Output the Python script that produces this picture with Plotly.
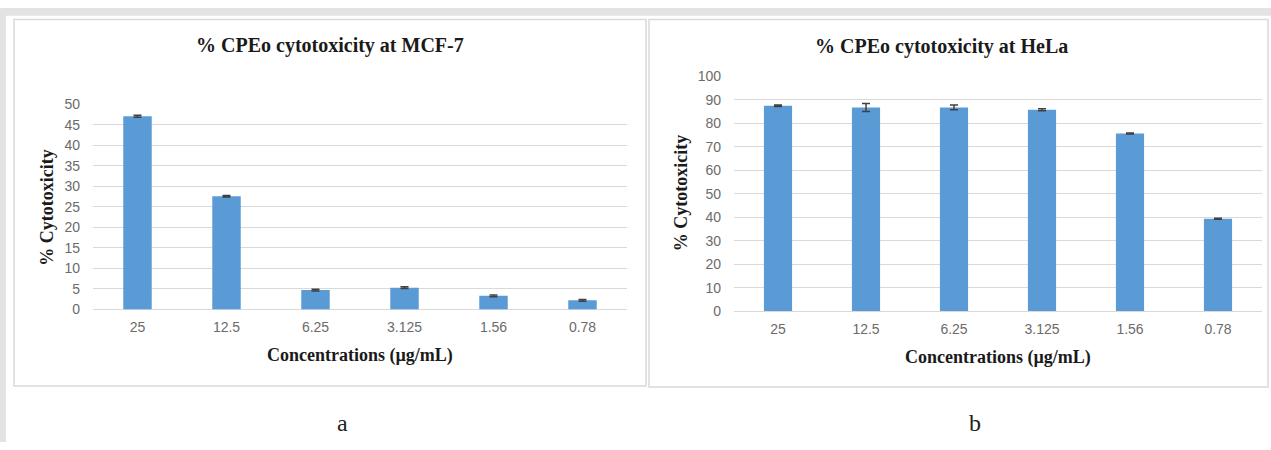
import plotly.graph_objects as go

W, H = 1271, 450

concentrations = ["25", "12.5", "6.25", "3.125", "1.56", "0.78"]
mcf7_values = [47.1, 27.6, 4.7, 5.3, 3.3, 2.2]
mcf7_errors = [0.25, 0.2, 0.2, 0.2, 0.2, 0.2]
hela_values = [87.5, 86.8, 86.8, 85.8, 75.7, 39.4]
hela_errors = [0.3, 1.7, 1.0, 0.4, 0.2, 0.2]

title_a = "% CPEo cytotoxicity at MCF-7"
title_b = "% CPEo cytotoxicity at HeLa"
x_title = "Concentrations (µg/mL)"
y_title = "% Cytotoxicity"
mcf7_ticks = [0, 5, 10, 15, 20, 25, 30, 35, 40, 45, 50]
hela_ticks = [0, 10, 20, 30, 40, 50, 60, 70, 80, 90, 100]


def px(x):
    return x / W


def py(y):
    return 1 - y / H


BAR = "#5B9BD5"
GRID = "#D9D9D9"
TICK = "#6b6b6b"
SERIF = "Liberation Serif, Times New Roman, serif"
SANS = "Liberation Sans, Arial, sans-serif"

fig = go.Figure()
fig.add_trace(go.Bar(
    x=concentrations, y=mcf7_values, xaxis="x", yaxis="y",
    marker=dict(color=BAR, line=dict(width=0)), width=0.32,
    error_y=dict(type="data", array=mcf7_errors, color="#404040", thickness=1.5, width=4),
    showlegend=False, hoverinfo="x+y",
))
fig.add_trace(go.Bar(
    x=concentrations, y=hela_values, xaxis="x2", yaxis="y2",
    marker=dict(color=BAR, line=dict(width=0)), width=0.32,
    error_y=dict(type="data", array=hela_errors, color="#404040", thickness=1.5, width=4),
    showlegend=False, hoverinfo="x+y",
))

axis_common = dict(showline=False, ticks="", tickfont=dict(family=SANS, size=14, color=TICK))

fig.update_layout(
    width=W, height=H,
    margin=dict(l=0, r=0, t=0, b=0),
    paper_bgcolor="white", plot_bgcolor="white",
    xaxis=dict(domain=[px(93), px(627)], anchor="y", type="category", showgrid=False,
               ticklabelstandoff=8, **axis_common),
    yaxis=dict(domain=[py(312.5), py(100)], anchor="x", range=[0, 50], tickvals=mcf7_ticks,
               showgrid=True, gridcolor=GRID, gridwidth=1, zeroline=True, zerolinecolor=GRID,
               zerolinewidth=1, ticklabelstandoff=12, **axis_common),
    xaxis2=dict(domain=[px(734), px(1262)], anchor="y2", type="category", showgrid=False,
                ticklabelstandoff=8, **axis_common),
    yaxis2=dict(domain=[py(314.3), py(71)], anchor="x2", range=[0, 100], tickvals=hela_ticks,
                showgrid=True, gridcolor=GRID, gridwidth=1, zeroline=True, zerolinecolor=GRID,
                zerolinewidth=1, ticklabelstandoff=12, **axis_common),
)

shapes = [
    dict(type="rect", xref="paper", yref="paper", x0=0, x1=1, y0=py(8), y1=1,
         fillcolor="#E3E3E3", line=dict(width=0), layer="below"),
    dict(type="rect", xref="paper", yref="paper", x0=0, x1=px(6), y0=0, y1=1,
         fillcolor="#E3E3E3", line=dict(width=0), layer="below"),
    dict(type="rect", xref="paper", yref="paper", x0=px(14), x1=px(646), y0=py(392), y1=py(12),
         line=dict(color=GRID, width=1.5), layer="below"),
    dict(type="rect", xref="paper", yref="paper", x0=px(649), x1=px(1268), y0=py(393), y1=py(12),
         line=dict(color=GRID, width=1.5), layer="below"),
]
fig.update_layout(shapes=shapes)


def ann(text, x, y, size, bold=True, angle=0, color="#1a1a1a", family=SERIF):
    return dict(text=f"<b>{text}</b>" if bold else text, x=px(x), y=py(y), xref="paper", yref="paper",
                showarrow=False, xanchor="center", yanchor="middle", textangle=angle,
                font=dict(family=family, size=size, color=color))


fig.update_layout(annotations=[
    ann(title_a, 330, 39, 20),
    ann(title_b, 941, 40, 20),
    ann(x_title, 360, 360, 18),
    ann(x_title, 998, 362, 18),
    ann(y_title, 47, 207, 18, angle=-90),
    ann(y_title, 681, 192, 18, angle=-90),
    ann("a", 343, 430, 24, bold=False, color="#222222"),
    ann("b", 975, 430, 24, bold=False, color="#222222"),
])

fig.write_html(
    "out.html",
    config={"displayModeBar": False},
    post_script="document.body.style.margin='0';document.body.style.overflow='hidden';",
)
